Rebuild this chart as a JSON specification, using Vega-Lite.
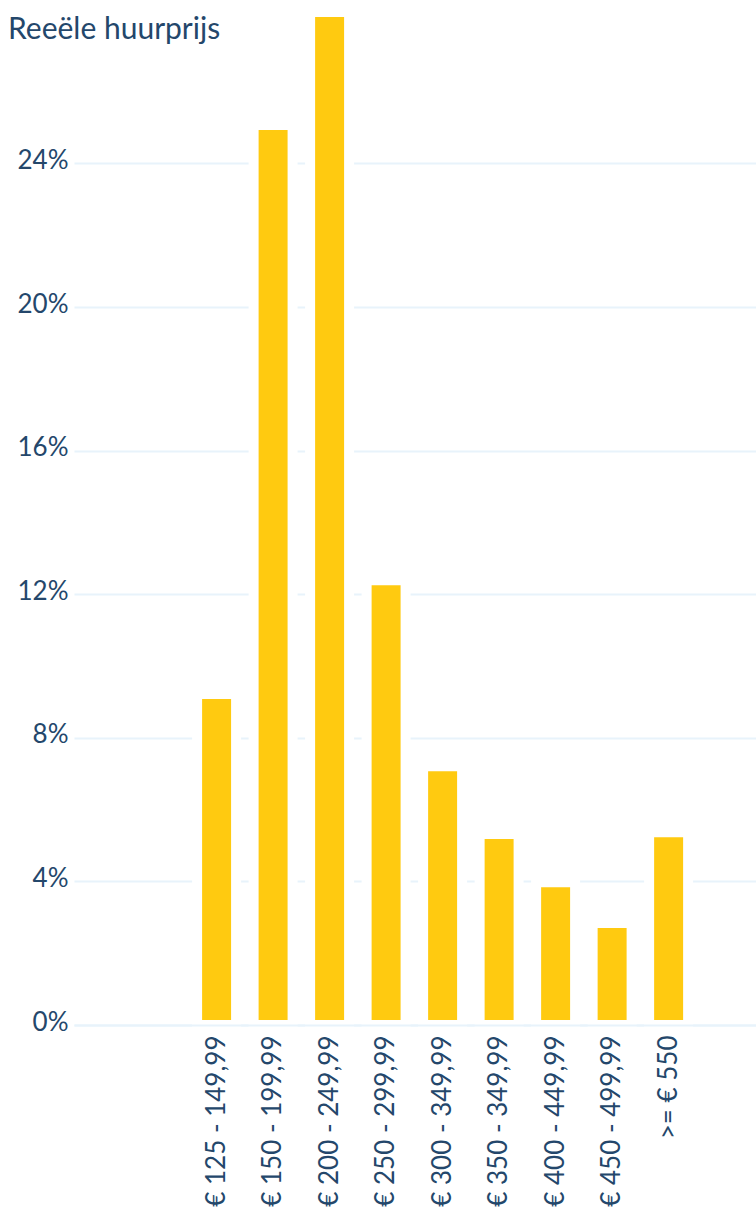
{
  "$schema": "https://vega.github.io/schema/vega-lite/v6.json",
  "width": 682,
  "height": 1013,
  "autosize": {"type": "none"},
  "padding": {"left": 74, "top": 12, "right": 0, "bottom": 189},
  "background": "white",
  "title": {
    "text": "Reeële huurprijs",
    "anchor": "start",
    "frame": "group",
    "font": "Lato",
    "fontSize": 30,
    "fontWeight": "normal",
    "color": "#24476b",
    "baseline": "alphabetic",
    "offset": 0,
    "dx": -66,
    "dy": 62
  },
  "data": {
    "values": [
      {"categorie": "€ 125 - 149,99", "aandeel": 0.0922},
      {"categorie": "€ 150 - 199,99", "aandeel": 0.2507},
      {"categorie": "€ 200 - 249,99", "aandeel": 0.2822},
      {"categorie": "€ 250 - 299,99", "aandeel": 0.1239},
      {"categorie": "€ 300 - 349,99", "aandeel": 0.0721},
      {"categorie": "€ 350 - 349,99", "aandeel": 0.0532},
      {"categorie": "€ 400 - 449,99", "aandeel": 0.0398},
      {"categorie": "€ 450 - 499,99", "aandeel": 0.0284},
      {"categorie": ">= € 550", "aandeel": 0.0537}
    ]
  },
  "mark": {"type": "bar", "color": "#ffca10", "stroke": "white", "strokeWidth": 10, "clip": false},
  "encoding": {
    "x": {
      "field": "categorie",
      "type": "nominal",
      "sort": null,
      "scale": {
        "domain": ["_1", "_2", "€ 125 - 149,99", "€ 150 - 199,99", "€ 200 - 249,99", "€ 250 - 299,99", "€ 300 - 349,99", "€ 350 - 349,99", "€ 400 - 449,99", "€ 450 - 499,99", ">= € 550", "_3"],
        "paddingInner": 0.31,
        "paddingOuter": 0.19,
        "align": 0.47
      },
      "axis": {
        "title": null,
        "labelExpr": "slice(datum.label, 0, 1) == '_' ? '' : datum.label",
        "labelAngle": -90,
        "labelPadding": 10,
        "labelFont": "Lato",
        "labelFontSize": 26,
        "labelColor": "#24476b",
        "labelLimit": 400,
        "ticks": false,
        "domain": true,
        "domainColor": "#e8f3fb",
        "domainWidth": 2,
        "grid": false,
        "zindex": 1
      }
    },
    "y": {
      "field": "aandeel",
      "type": "quantitative",
      "scale": {"domain": [0, 0.2822], "nice": false},
      "axis": {
        "title": null,
        "values": [0, 0.04, 0.08, 0.12, 0.16, 0.2, 0.24],
        "format": ".0%",
        "domain": false,
        "ticks": false,
        "grid": true,
        "gridColor": "#e8f3fb",
        "gridWidth": 2,
        "labelFont": "Lato",
        "labelFontSize": 26,
        "labelColor": "#24476b",
        "labelPadding": 6,
        "labelOffset": -3,
        "zindex": 0
      }
    }
  },
  "config": {"view": {"stroke": null}}
}
